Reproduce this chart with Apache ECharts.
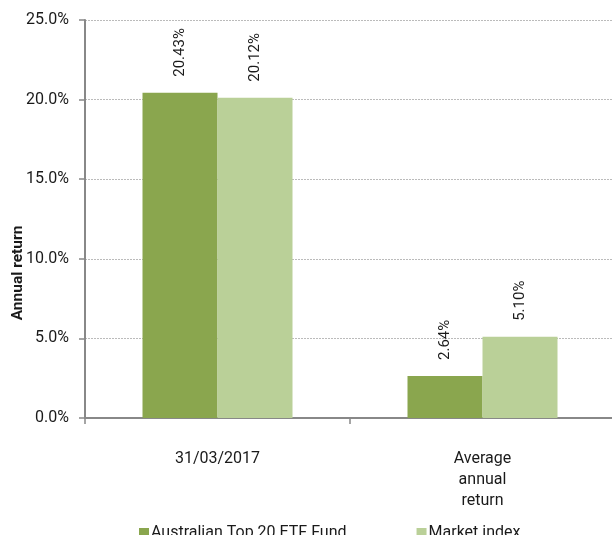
<!DOCTYPE html>
<html><head><meta charset="utf-8">
<script src="https://cdn.jsdelivr.net/npm/echarts@6/dist/echarts.min.js"></script>
<style>html,body{margin:0;padding:0;background:#fff}#c{width:612px;height:535px}</style>
</head><body><div id="c"></div>
<script>
const categories = ['31/03/2017', 'Average\nannual\nreturn'];
const fundValues = [20.43, 2.64];
const indexValues = [20.12, 5.10];
const seriesNames = ['Australian Top 20 ETF Fund', 'Market index'];
const yTicks = {min: 0, max: 25, interval: 5};

const chart = echarts.init(document.getElementById('c'));
const font = 'Roboto, "Liberation Sans", sans-serif';
const lbl = {
  show: true, position: 'top', rotate: 90, align: 'left', verticalAlign: 'middle',
  distance: 16, color: '#1a1a1a', fontSize: 15, fontFamily: font,
  formatter: p => p.value.toFixed(2) + '%'
};
chart.setOption({
  animation: false,
  textStyle: {fontFamily: font},
  grid: {left: 85, right: -3, top: 20, bottom: 117, containLabel: false, outerBoundsMode: 'none'},
  legend: {
    left: 139, top: 525, padding: 0, itemWidth: 10, itemHeight: 10, itemGap: 70, icon: 'rect',
    textStyle: {fontSize: 16, color: '#1a1a1a', fontFamily: font, padding: [0, 0, 0, -3]},
    data: seriesNames
  },
  xAxis: {
    type: 'category', data: categories,
    axisLine: {lineStyle: {color: '#888', width: 2}},
    axisTick: {show: true, length: 6, lineStyle: {color: '#888', width: 1.5}},
    axisLabel: {fontSize: 16, color: '#1a1a1a', lineHeight: 21, margin: 30, fontFamily: font},
    splitLine: {show: false}
  },
  yAxis: {
    type: 'value', min: yTicks.min, max: yTicks.max, interval: yTicks.interval,
    name: 'Annual return', nameLocation: 'middle', nameGap: 59, nameMoveOverlap: false,
    nameTextStyle: {fontSize: 15.5, fontWeight: 'bold', color: '#1a1a1a', fontFamily: font, padding: [0, 108, 0, 0]},
    axisLine: {show: true, lineStyle: {color: '#888', width: 2}},
    axisTick: {show: true, length: 6, lineStyle: {color: '#888', width: 1.5}},
    axisLabel: {fontSize: 16, color: '#1a1a1a', margin: 16, formatter: v => v.toFixed(1) + '%', fontFamily: font},
    splitLine: {lineStyle: {color: '#bbb', type: [2, 1], width: 1}}
  },
  series: [
    {name: seriesNames[0], type: 'bar', data: fundValues, barWidth: 75, barGap: '0%',
     itemStyle: {color: '#8aa64e'}, label: lbl},
    {name: seriesNames[1], type: 'bar', data: indexValues, barWidth: 75,
     itemStyle: {color: '#bad098'}, label: lbl}
  ]
});
</script></body></html>
